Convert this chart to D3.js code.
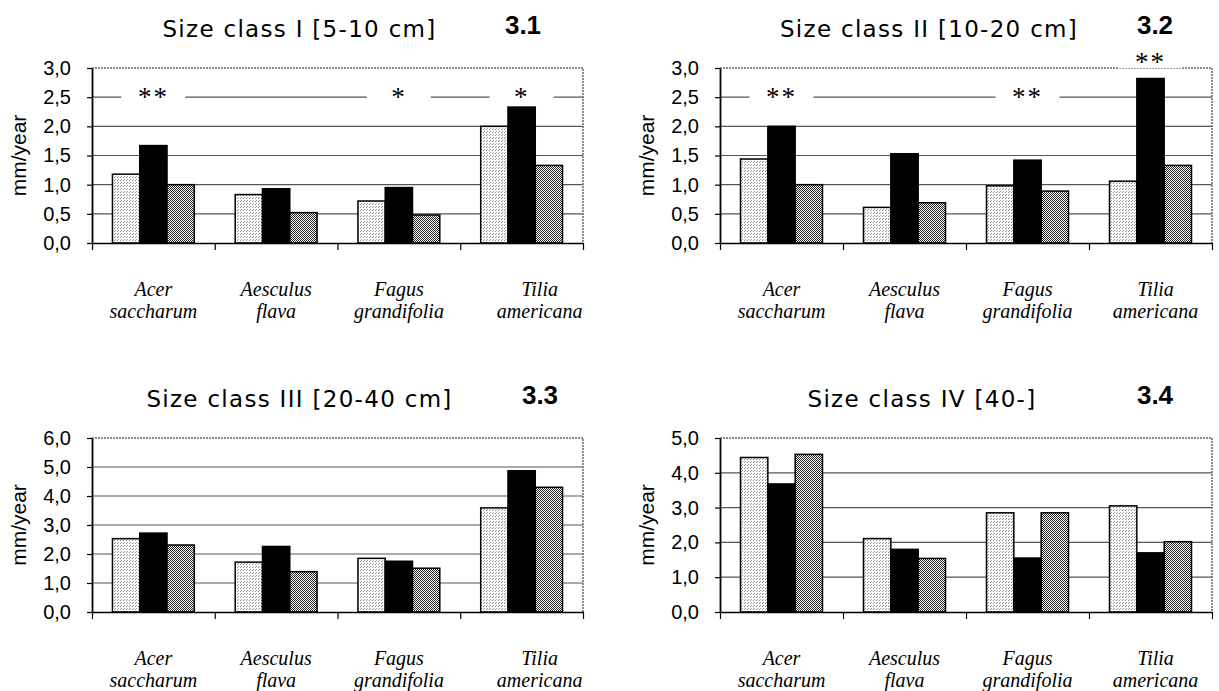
<!DOCTYPE html>
<html>
<head>
<meta charset="utf-8">
<script src="https://cdn.jsdelivr.net/npm/d3@7"></script>
<style>
  body { margin: 0; background: #fff; }
  svg { display: block; }
</style>
</head>
<body>
<svg id="chart" width="1219" height="691"></svg>
<script>
// Data
const species = ["Acer saccharum", "Aesculus flava", "Fagus grandifolia", "Tilia americana"];

// Size class I [5-10 cm]
const class1Light = [1.18, 0.83, 0.72, 2.00];
const class1Black = [1.67, 0.93, 0.95, 2.33];
const class1Dense = [1.00, 0.52, 0.48, 1.33];

// Size class II [10-20 cm]
const class2Light = [1.44, 0.61, 0.98, 1.06];
const class2Black = [2.00, 1.53, 1.42, 2.82];
const class2Dense = [1.00, 0.69, 0.89, 1.33];

// Size class III [20-40 cm]
const class3Light = [2.53, 1.72, 1.85, 3.59];
const class3Black = [2.72, 2.26, 1.75, 4.87];
const class3Dense = [2.31, 1.39, 1.51, 4.30];

// Size class IV [40-]
const class4Light = [4.44, 2.11, 2.85, 3.05];
const class4Black = [3.68, 1.80, 1.55, 1.70];
const class4Dense = [4.53, 1.54, 2.85, 2.02];

// Tick values
const ticksHalf = [0, 0.5, 1, 1.5, 2, 2.5, 3];
const ticksSix = [0, 1, 2, 3, 4, 5, 6];
const ticksFive = [0, 1, 2, 3, 4, 5];

// Significance marks
const class1Stars = [
  { species: "Acer saccharum", text: "**", level: 2.5 },
  { species: "Fagus grandifolia", text: "*", level: 2.5 },
  { species: "Tilia americana", text: "*", level: 2.5 }
];
const class2Stars = [
  { species: "Acer saccharum", text: "**", level: 2.5 },
  { species: "Fagus grandifolia", text: "**", level: 2.5 },
  { species: "Tilia americana", text: "**", level: 3.1 }
];

//==========================================
// Panel layout
//==========================================
const panels = [
  { title: "Size class I [5-10 cm]", tag: "3.1", left: 92, right: 583, top: 68, bottom: 243,
    yMax: 3, ticks: ticksHalf, series: [class1Light, class1Black, class1Dense],
    stars: class1Stars, titleDx: -38, tagDx: -60, lastLabelDx: 18 },
  { title: "Size class II [10-20 cm]", tag: "3.2", left: 720, right: 1212, top: 68, bottom: 243,
    yMax: 3, ticks: ticksHalf, series: [class2Light, class2Black, class2Dense],
    stars: class2Stars, titleDx: -37, tagDx: -57, lastLabelDx: 5 },
  { title: "Size class III [20-40 cm]", tag: "3.3", left: 92, right: 583, top: 438, bottom: 612,
    yMax: 6, ticks: ticksSix, series: [class3Light, class3Black, class3Dense],
    stars: [], titleDx: -38, tagDx: -43, lastLabelDx: 18 },
  { title: "Size class IV [40-]", tag: "3.4", left: 720, right: 1212, top: 438, bottom: 612,
    yMax: 5, ticks: ticksFive, series: [class4Light, class4Black, class4Dense],
    stars: [], titleDx: -44, tagDx: -57, lastLabelDx: 5 }
];

const fills = ["url(#pLight)", "#000", "url(#pDense)"];
const commaFormat = v => d3.format(".1f")(v).replace(".", ",");

const svg = d3.select("#chart");

// Bar fill patterns
const defs = svg.append("defs");
const light = defs.append("pattern").attr("id", "pLight")
  .attr("width", 3).attr("height", 3).attr("patternUnits", "userSpaceOnUse");
light.append("rect").attr("width", 3).attr("height", 3).attr("fill", "#fff");
light.append("rect").attr("x", 0).attr("y", 0).attr("width", 1).attr("height", 1).attr("fill", "#888");
light.append("rect").attr("x", 1).attr("y", 2).attr("width", 1).attr("height", 1).attr("fill", "#999");

const dense = defs.append("pattern").attr("id", "pDense")
  .attr("width", 2).attr("height", 2).attr("patternUnits", "userSpaceOnUse");
dense.append("rect").attr("width", 2).attr("height", 2).attr("fill", "#fff");
dense.append("rect").attr("x", 0).attr("y", 0).attr("width", 1).attr("height", 1).attr("fill", "#222");
dense.append("rect").attr("x", 1).attr("y", 1).attr("width", 1).attr("height", 1).attr("fill", "#222");

// Draw one panel
function drawPanel(p) {
  const g = svg.append("g");

  const x0 = d3.scaleBand().domain(species).range([p.left, p.right])
    .paddingInner(1 / 3).paddingOuter(1 / 6);
  const x1 = d3.scaleBand().domain([0, 1, 2]).range([0, x0.bandwidth()]);
  const edges = d3.scaleLinear().domain([0, species.length]).range([p.left, p.right]);
  const y = d3.scaleLinear().domain([0, p.yMax]).range([p.bottom, p.top]);

  // Gridlines
  g.selectAll(".grid")
    .data(p.ticks.filter(t => t > 0 && t < p.yMax))
    .enter().append("line")
    .attr("x1", p.left).attr("x2", p.right)
    .attr("y1", d => y(d)).attr("y2", d => y(d))
    .style("stroke", "#555")
    .style("stroke-width", 1.2);

  // Dotted top and right border of the plot area
  g.append("path")
    .attr("d", `M${p.left},${y(p.yMax)}H${p.right}V${p.bottom}`)
    .style("fill", "none")
    .style("stroke", "#666")
    .style("stroke-width", 1.5)
    .style("stroke-dasharray", "2,1");

  // Significance marks with a white gap behind them
  const stars = g.selectAll(".star")
    .data(p.stars)
    .enter().append("g")
    .attr("transform", d => `translate(${x0(d.species) + x0.bandwidth() / 2},${y(d.level) - 2})`);
  stars.append("rect")
    .attr("x", -32).attr("y", -8).attr("width", 64).attr("height", 16)
    .style("fill", "#fff");
  stars.append("text")
    .attr("y", 11)
    .attr("text-anchor", "middle")
    .style("font", "27px 'Liberation Serif', serif")
    .style("letter-spacing", "2px")
    .text(d => d.text);

  // Bars
  p.series.forEach((values, si) => {
    g.selectAll(`.bar${si}`)
      .data(values)
      .enter().append("rect")
      .attr("x", (d, i) => x0(species[i]) + x1(si))
      .attr("y", d => y(d))
      .attr("width", x1.bandwidth())
      .attr("height", d => y(0) - y(d))
      .style("fill", fills[si])
      .style("stroke", "#000")
      .style("stroke-width", 1.5);
  });

  // X axis (ticks at category boundaries)
  const xAxis = g.append("g")
    .attr("transform", `translate(0,${p.bottom})`)
    .call(d3.axisBottom(edges).tickValues(d3.range(species.length + 1)).tickFormat("").tickSize(7).tickSizeOuter(0));
  xAxis.select(".domain").style("stroke", "#000").style("stroke-width", 1.5);
  xAxis.selectAll(".tick line").style("stroke", "#000").style("stroke-width", 1.2);

  // Y axis
  const yAxis = g.append("g")
    .attr("transform", `translate(${p.left},0)`)
    .call(d3.axisLeft(y).tickValues(p.ticks).tickFormat(commaFormat).tickSize(5).tickSizeOuter(0).tickPadding(16));
  yAxis.select(".domain").style("stroke", "#000").style("stroke-width", 1.8);
  yAxis.selectAll(".tick line").style("stroke", "#000").style("stroke-width", 1.2);
  yAxis.selectAll(".tick text")
    .style("font-family", "'Liberation Sans', Arial, sans-serif")
    .style("font-size", "20px")
    .style("fill", "#000");

  // Category labels (two lines, italic serif)
  const labels = g.selectAll(".cat")
    .data(species)
    .enter().append("text")
    .attr("text-anchor", "middle")
    .attr("transform", (d, i) => {
      const dx = i === species.length - 1 ? p.lastLabelDx : 0;
      return `translate(${x0(d) + x0.bandwidth() / 2 + dx},${p.bottom + 53})`;
    })
    .style("font", "italic 20px 'Liberation Serif', 'Times New Roman', serif");
  labels.append("tspan").attr("x", 0).attr("y", 0).text(d => d.split(" ")[0]);
  labels.append("tspan").attr("x", 0).attr("y", 22).text(d => d.split(" ")[1]);

  // Y axis title
  g.append("text")
    .attr("transform", `translate(${p.left - 66},${(p.top + p.bottom) / 2}) rotate(-90)`)
    .attr("text-anchor", "middle")
    .style("font", "21px 'Liberation Sans', Arial, sans-serif")
    .text("mm/year");

  // Panel title and number
  g.append("text")
    .attr("x", (p.left + p.right) / 2 + p.titleDx)
    .attr("y", p.top - 31)
    .attr("text-anchor", "middle")
    .style("font", "23px 'DejaVu Sans', sans-serif")
    .style("letter-spacing", "1.3px")
    .text(p.title);

  g.append("text")
    .attr("x", p.right + p.tagDx)
    .attr("y", p.top - 34)
    .attr("text-anchor", "middle")
    .style("font", "bold 26px 'Liberation Sans', Arial, sans-serif")
    .text(p.tag);
}

panels.forEach(drawPanel);
</script>
</body>
</html>
